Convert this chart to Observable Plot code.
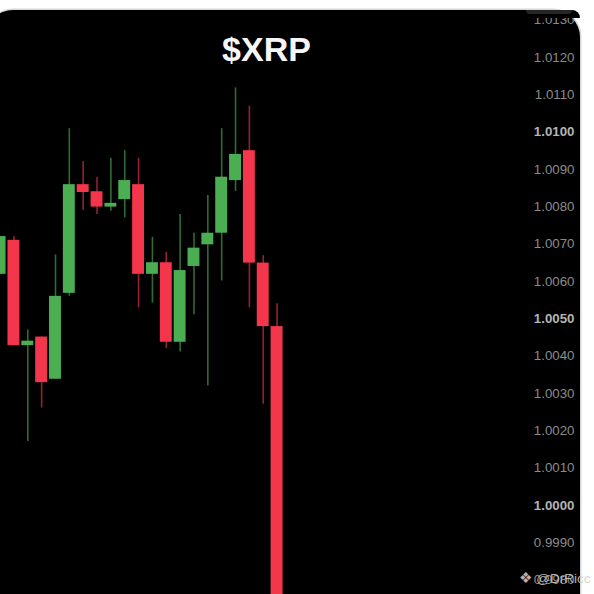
<!DOCTYPE html>
<html>
<head>
<meta charset="utf-8">
<script src="https://cdn.jsdelivr.net/npm/d3@7"></script>
<script src="https://cdn.jsdelivr.net/npm/@observablehq/plot@0.6"></script>
<style>
html,body{margin:0;padding:0;width:594px;height:594px;overflow:hidden;background:#fff}
#card{position:absolute;left:-14px;top:10px;width:594px;height:620px;background:#000;border-radius:27px;box-shadow:0 0 0 1.5px #d4d8da}
#chart{position:absolute;left:0;top:0;width:594px;height:594px}
#chart svg{background:transparent!important;display:block}
#topclip{position:absolute;left:-14px;top:10px;width:594px;height:8px;overflow:hidden;border-radius:27px 27px 0 0}
#band{position:absolute;left:534px;top:0;width:60px;height:8px;background:#000}
#tab{position:absolute;left:540px;top:0;width:46px;height:4px;background:#262626;border-radius:0 0 5px 5px}
#mark{position:absolute;left:519px;top:569px;font:13.5px "Liberation Sans",sans-serif;color:rgba(205,205,205,.88);white-space:pre}
#mark span{font-family:"DejaVu Sans";font-size:15px}
</style>
</head>
<body>
<div id="card"></div>
<div id="chart"></div>
<div id="topclip"><div id="band"></div><div id="tab"></div></div>
<div id="mark"><span>❖</span> @DrRicc</div>
<script>
const opens  = [1.00619,1.00710,1.00428,1.00451,1.00338,1.00568,1.00859,1.00840,1.00799,1.00819,1.00859,1.00619,1.00650,1.00437,1.00640,1.00698,1.00729,1.00870,1.00950,1.00649,1.00479];
const closes = [1.00720,1.00428,1.00440,1.00329,1.00560,1.00859,1.00838,1.00799,1.00809,1.00870,1.00619,1.00650,1.00437,1.00629,1.00689,1.00729,1.00879,1.00940,1.00649,1.00479,0.99750];
const highs  = [1.00720,1.00720,1.00470,1.00451,1.00671,1.01009,1.00921,1.00879,1.00930,1.00950,1.00930,1.00718,1.00678,1.00779,1.00729,1.00830,1.01009,1.01118,1.01069,1.00669,1.00540];
const lows   = [1.00619,1.00428,1.00171,1.00261,1.00338,1.00560,1.00790,1.00779,1.00788,1.00770,1.00529,1.00542,1.00420,1.00411,1.00511,1.00320,1.00601,1.00841,1.00529,1.00271,0.99750];
const ticks  = [1.013,1.012,1.011,1.010,1.009,1.008,1.007,1.006,1.005,1.004,1.003,1.002,1.001,1.000,0.999,0.998];
const majorTicks = [1.010,1.005,1.000];

const green = "#4cae52", red = "#f4364c";
const candles = opens.map((o,i)=>({i,o,c:closes[i],h:highs[i],l:lows[i],col:closes[i]>=o?green:red}));
const font = "'Liberation Sans',sans-serif";

const chart = Plot.plot({
  width:594,height:594,
  marginTop:0,marginBottom:0,marginLeft:0,marginRight:20,
  style:{background:"transparent",fontFamily:font},
  x:{domain:[0.03,41.475],axis:null},
  y:{domain:[0.997617,1.013521],axis:null},
  color:{type:"identity"},
  marks:[
    Plot.ruleX(candles,{x:"i",y1:"l",y2:"h",stroke:"col",strokeWidth:1.6,strokeOpacity:0.62}),
    Plot.rect(candles,{x1:d=>d.i-0.43,x2:d=>d.i+0.43,y1:"o",y2:"c",fill:"col",clip:true}),
    Plot.axisY({anchor:"right",ticks:ticks.filter(t=>!majorTicks.includes(t)),tickSize:0,tickPadding:0,textAnchor:"end",
      tickFormat:d3.format(".4f"),fill:"#8b8b8b",fontSize:13.3,label:null}),
    Plot.axisY({anchor:"right",ticks:majorTicks,tickSize:0,tickPadding:0,textAnchor:"end",
      tickFormat:d3.format(".4f"),fill:"#b4b4b4",fontSize:13.3,fontWeight:"bold",label:null}),
    Plot.text(["$XRP"],{frameAnchor:"top",dy:36,dx:-21,text:d=>d,fill:"#f6f6f6",fontSize:34,fontWeight:"bold",fontFamily:font})
  ]
});
document.getElementById("chart").append(chart);
</script>
</body>
</html>
